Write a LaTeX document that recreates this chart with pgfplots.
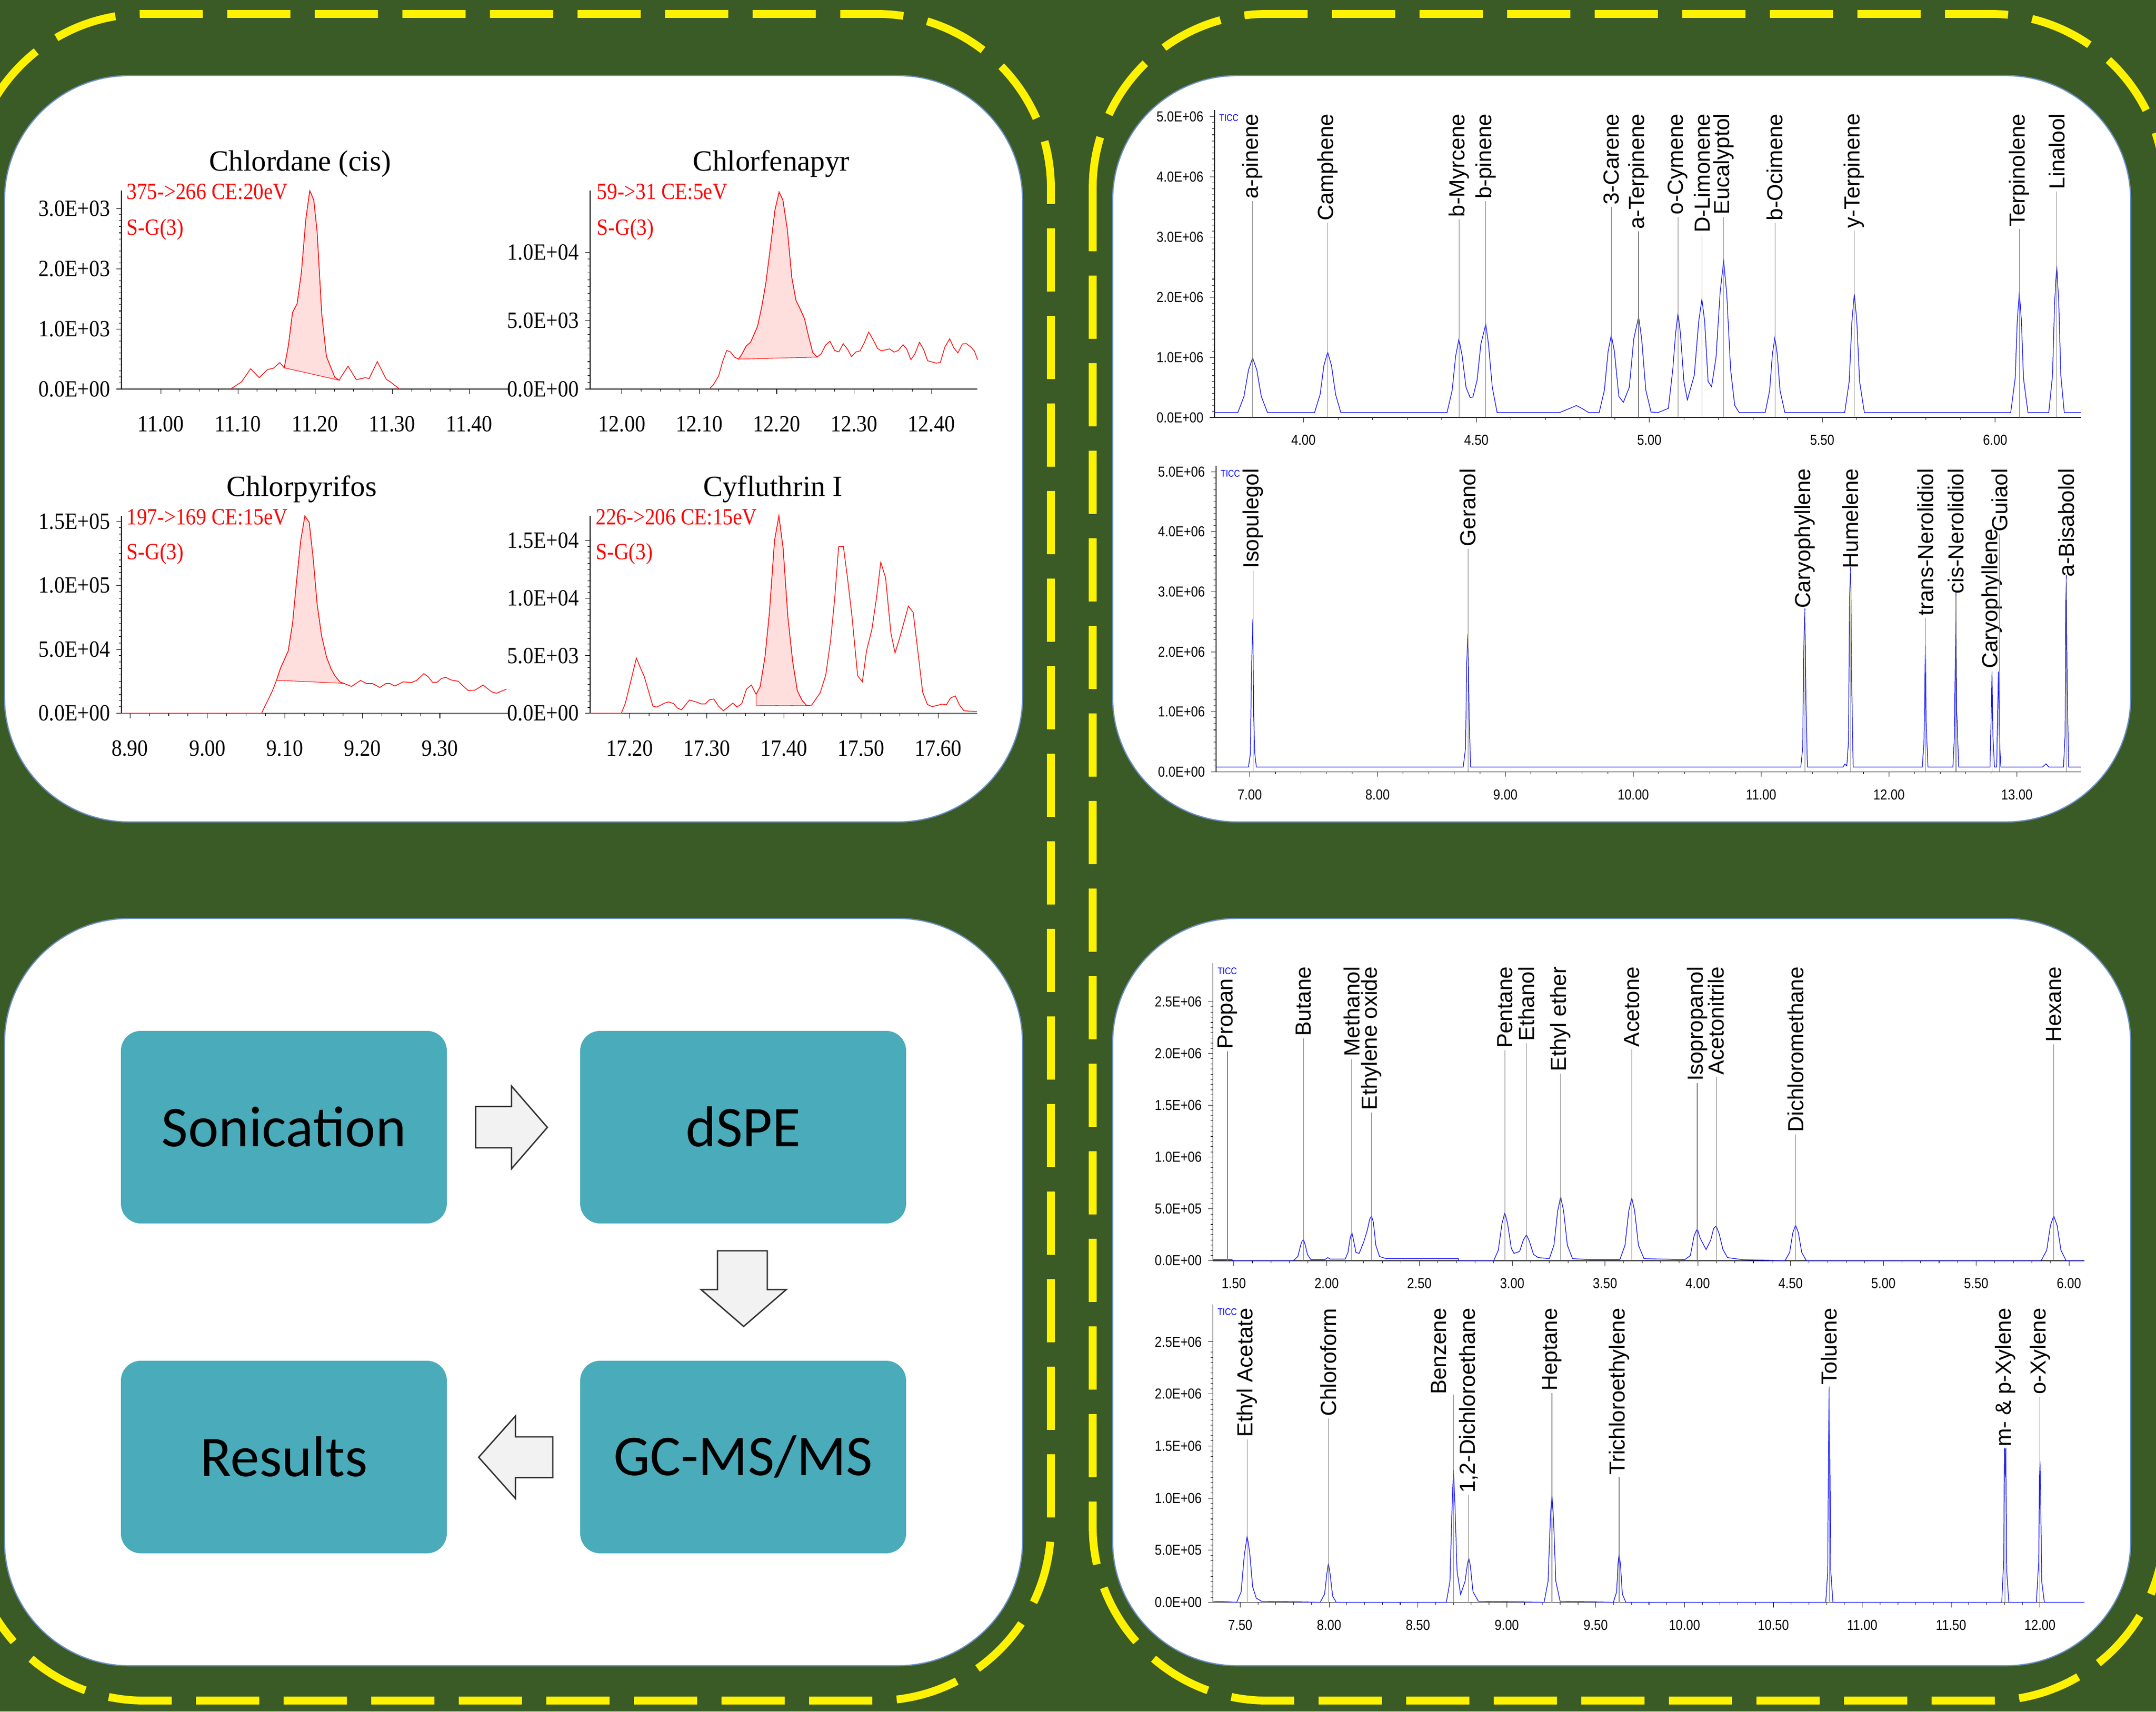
\documentclass[border=0pt]{standalone}
\usepackage{pgfplots}
\pgfplotsset{compat=1.18}
\usepackage{fontspec}
\setmainfont{Liberation Serif}
\newfontfamily\srmfont[FakeStretch=0.9]{Liberation Serif}
\newfontfamily\redfont[FakeStretch=0.88]{Liberation Serif}
\newfontfamily\ticfont[FakeStretch=0.86]{Liberation Sans}
\newfontfamily\labfont{Liberation Sans}
\newfontfamily\flowfont{Carlito}

\definecolor{bg}{HTML}{3A5A26}
\definecolor{panelline}{HTML}{6A8EC4}
\definecolor{boxteal}{HTML}{4AABBA}
\definecolor{arrowgray}{HTML}{F2F2F2}
\definecolor{pinkfill}{HTML}{FFDEDE}

\pgfplotsset{
  srm/.style={
    scale only axis, anchor=south west, clip=false,
    width=77.7mm, height=39.85mm,
    axis x line*=bottom, axis y line*=left,
    axis line style={black, line width=0.4pt},
    tick align=outside, major tick length=1mm, minor tick length=0.5mm,
    tick style={black, line width=0.3pt},
    minor x tick num=3, minor y tick num=9,
    scaled x ticks=false, scaled y ticks=false,
    ticklabel style={font=\fontsize{13.3}{14}\srmfont},
    xticklabel style={yshift=-3.2mm},
    ymin=0,
  },
  gc/.style={
    scale only axis, anchor=south west, clip=false,
    axis x line*=bottom, axis y line*=left,
    axis line style={black!85, line width=0.4pt},
    tick align=outside, major tick length=1mm, minor tick length=0.5mm,
    tick style={black!85, line width=0.3pt},
    minor x tick num=4, minor y tick num=9,
    scaled x ticks=false, scaled y ticks=false,
    ticklabel style={font=\fontsize{8.3}{9}\ticfont},
    xticklabel style={yshift=-1.3mm},
    ymin=0,
  },
}
\newcommand\gclab[3]{%
  \node[rotate=90, anchor=east, inner sep=0.4mm, font=\fontsize{12.5}{13}\labfont] (L) at (axis cs:#1,#2) {#3};
  \draw[gray, line width=0.3pt] (axis cs:#1,0) -- (L.west);}
\newcommand\ticc{\node[anchor=west, inner sep=0pt, text=blue, font=\fontsize{5.5}{6}\ticfont] at (rel axis cs:0.005,0.975) {TICC};}

\begin{document}
\begin{tikzpicture}
\begin{scope}[shift={(0mm,344mm)},x=0.1mm,y=-0.1mm]
  \fill[bg] (0,0) rectangle (4333,3440);
  \draw[yellow, line width=4.5pt, dash pattern=on 12.7mm off 4.9mm, rounded corners=35mm] (-60,28) rectangle (2112,3418);
  \draw[yellow, line width=4.5pt, dash pattern=on 12.7mm off 4.9mm, rounded corners=35mm] (2196,28) rectangle (4350,3418);
  \filldraw[fill=white, draw=panelline, line width=0.7pt, rounded corners=25mm] (9,152) rectangle (2055,1652);
  \filldraw[fill=white, draw=panelline, line width=0.7pt, rounded corners=25mm] (2236,152) rectangle (4282,1652);
  \filldraw[fill=white, draw=panelline, line width=0.7pt, rounded corners=25mm] (9,1846) rectangle (2055,3348);
  \filldraw[fill=white, draw=panelline, line width=0.7pt, rounded corners=25mm] (2236,1846) rectangle (4282,3348);
  % flow chart
  \fill[boxteal, rounded corners=4mm] (243,2072) rectangle (898,2459);
  \fill[boxteal, rounded corners=4mm] (1166,2072) rectangle (1821,2459);
  \fill[boxteal, rounded corners=4mm] (1166,2735) rectangle (1821,3122);
  \fill[boxteal, rounded corners=4mm] (243,2735) rectangle (898,3122);
  \node[font=\fontsize{33}{36}\flowfont] at (570.5,2265) {Sonication};
  \node[font=\fontsize{33}{36}\flowfont] at (1493.5,2265) {dSPE};
  \node[font=\fontsize{33}{36}\flowfont] at (1493.5,2928) {GC-MS/MS};
  \node[font=\fontsize{33}{36}\flowfont] at (570.5,2928) {Results};
  \filldraw[fill=arrowgray, draw=black!80, line width=0.8pt] (956,2224) -- (1028,2224) -- (1028,2183) -- (1100,2266) -- (1028,2349) -- (1028,2307) -- (956,2307) -- cycle;
  \filldraw[fill=arrowgray, draw=black!80, line width=0.8pt] (1442,2514) -- (1542,2514) -- (1542,2592) -- (1580,2592) -- (1494.5,2666) -- (1409,2592) -- (1442,2592) -- cycle;
  \filldraw[fill=arrowgray, draw=black!80, line width=0.8pt] (1111,2888) -- (1036,2888) -- (1036,2846) -- (962,2929) -- (1036,3012) -- (1036,2970) -- (1111,2970) -- cycle;
\end{scope}

% ---------- SRM chromatograms ----------
\begin{axis}[srm, at={(24.4mm,265.8mm)},
  xmin=10.949, xmax=11.45, ymax=3300,
  xtick={11,11.1,11.2,11.3,11.4}, xticklabels={11.00,11.10,11.20,11.30,11.40},
  ytick={0,1000,2000,3000}, yticklabels={0.0E+00,1.0E+03,2.0E+03,3.0E+03}]
\addplot[fill=pinkfill, draw=red, line width=0.3pt] coordinates {
  (11.16,354) (11.1655,732) (11.1707,1275) (11.1767,1419) (11.1823,1952) (11.188,2828)
  (11.1931,3302) (11.1983,3144) (11.2026,2622) (11.2086,1247) (11.2147,543) (11.2254,199) (11.231,148)} -- cycle;
\addplot[red, line width=0.4pt] coordinates {
  (11.0905,0) (11.1047,120) (11.1164,337) (11.1276,189) (11.1384,326) (11.1457,344) (11.1543,440)
  (11.16,354) (11.1655,732) (11.1707,1275) (11.1767,1419) (11.1823,1952) (11.188,2828) (11.1931,3302)
  (11.1983,3144) (11.2026,2622) (11.2086,1247) (11.2147,543) (11.2254,199) (11.231,148) (11.2427,381)
  (11.2534,155) (11.2651,189) (11.27,175) (11.2806,457) (11.2922,162) (11.2974,120) (11.3095,0)};
\node[font=\fontsize{16.8}{18}\selectfont] at (rel axis cs:0.462,1.137) {Chlordane (cis)};
\node[anchor=west, inner sep=0pt, text=red, font=\fontsize{13.3}{14}\redfont] at (rel axis cs:0.013,0.996) {375->266 CE:20eV};
\node[anchor=west, inner sep=0pt, text=red, font=\fontsize{13.3}{14}\redfont] at (rel axis cs:0.013,0.806) {S-G(3)};
\end{axis}

\begin{axis}[srm, at={(118.6mm,265.8mm)}, width=77.8mm,
  xmin=11.959, xmax=12.459, ymax=14500,
  xtick={12,12.1,12.2,12.3,12.4}, xticklabels={12.00,12.10,12.20,12.30,12.40},
  ytick={0,5000,10000}, yticklabels={0.0E+00,5.0E+03,1.0E+04}]
\addplot[fill=pinkfill, draw=red, line width=0.3pt] coordinates {
  (12.1506,2190) (12.1547,2520) (12.1608,3165) (12.1662,3420) (12.1752,4575) (12.1805,5970) (12.1858,7695)
  (12.1916,10245) (12.1977,13095) (12.2031,14415) (12.208,13815) (12.2137,11670) (12.2195,8145) (12.2248,6495)
  (12.2297,5925) (12.2359,5145) (12.2408,3945) (12.2465,2670) (12.2523,2340)} -- cycle;
\addplot[red, line width=0.4pt] coordinates {
  (12.1128,0) (12.1182,315) (12.1251,975) (12.13,1995) (12.1354,2820) (12.1403,2715) (12.1456,2325)
  (12.1506,2190) (12.1547,2520) (12.1608,3165) (12.1662,3420) (12.1752,4575) (12.1805,5970) (12.1858,7695)
  (12.1916,10245) (12.1977,13095) (12.2031,14415) (12.208,13815) (12.2137,11670) (12.2195,8145) (12.2248,6495)
  (12.2297,5925) (12.2359,5145) (12.2408,3945) (12.2465,2670) (12.2523,2340) (12.2576,2595) (12.2633,3225)
  (12.2687,3495) (12.2749,2820) (12.2802,2715) (12.2859,3315) (12.2913,2925) (12.2966,2370) (12.3024,2715)
  (12.3077,2790) (12.313,3375) (12.3188,4170) (12.3249,3570) (12.3303,2970) (12.3352,2790) (12.3458,2940)
  (12.3516,2700) (12.3569,2820) (12.3631,3240) (12.368,2925) (12.3733,2145) (12.3787,2595) (12.3844,3420)
  (12.3897,2895) (12.395,2070) (12.4062,1890) (12.4115,1965) (12.4172,3075) (12.4234,3675) (12.4287,3015)
  (12.434,2640) (12.4398,3300) (12.4451,3315) (12.4504,3090) (12.4554,2775) (12.4595,2145)};
\node[font=\fontsize{16.8}{18}\selectfont] at (rel axis cs:0.468,1.137) {Chlorfenapyr};
\node[anchor=west, inner sep=0pt, text=red, font=\fontsize{13.3}{14}\redfont] at (rel axis cs:0.017,0.996) {59->31 CE:5eV};
\node[anchor=west, inner sep=0pt, text=red, font=\fontsize{13.3}{14}\redfont] at (rel axis cs:0.017,0.806) {S-G(3)};
\end{axis}

\begin{axis}[srm, at={(24.4mm,200.64mm)}, height=39.68mm,
  xmin=8.889, xmax=9.388, ymax=154400,
  xtick={8.9,9,9.1,9.2,9.3}, xticklabels={8.90,9.00,9.10,9.20,9.30},
  ytick={0,50000,100000,150000}, yticklabels={0.0E+00,5.0E+04,1.0E+05,1.5E+05}]
\addplot[fill=pinkfill, draw=red, line width=0.3pt] coordinates {
  (9.0892,25810) (9.0944,35320) (9.1043,48710) (9.1099,70490) (9.115,102750) (9.1206,135810) (9.1258,154370)
  (9.1314,149200) (9.1366,120490) (9.1417,85000) (9.1473,60810) (9.1538,43870) (9.1594,35000) (9.1645,29360)
  (9.171,24520) (9.1761,23390)} -- cycle;
\addplot[red, line width=0.4pt] coordinates {
  (8.889,0) (9.0699,0) (9.0837,17260) (9.0892,25810) (9.0944,35320) (9.1043,48710) (9.1099,70490) (9.115,102750)
  (9.1206,135810) (9.1258,154370) (9.1314,149200) (9.1366,120490) (9.1417,85000) (9.1473,60810) (9.1538,43870)
  (9.1594,35000) (9.1645,29360) (9.171,24520) (9.1761,23390) (9.186,20970) (9.1976,25650) (9.2054,23230)
  (9.2131,23230) (9.2226,20160) (9.2303,23230) (9.2355,23230) (9.2419,21290) (9.2527,24520) (9.2634,24030)
  (9.2699,25650) (9.2794,30970) (9.2849,28550) (9.2905,24200) (9.2965,24200) (9.3022,27260) (9.3077,28070)
  (9.3138,26130) (9.3237,25000) (9.3301,21290) (9.3366,17740) (9.3452,18070) (9.3559,22100) (9.3667,16770)
  (9.3731,15650) (9.3796,17260) (9.386,18870)};
\node[font=\fontsize{16.8}{18}\selectfont] at (rel axis cs:0.466,1.136) {Chlorpyrifos};
\node[anchor=west, inner sep=0pt, text=red, font=\fontsize{13.3}{14}\redfont] at (rel axis cs:0.013,0.994) {197->169 CE:15eV};
\node[anchor=west, inner sep=0pt, text=red, font=\fontsize{13.3}{14}\redfont] at (rel axis cs:0.013,0.807) {S-G(3)};
\end{axis}

\begin{axis}[srm, at={(118.6mm,200.64mm)}, width=77.8mm, height=39.68mm,
  xmin=17.1486, xmax=17.6506, ymax=17150,
  xtick={17.2,17.3,17.4,17.5,17.6}, xticklabels={17.20,17.30,17.40,17.50,17.60},
  ytick={0,5000,10000,15000}, yticklabels={0.0E+00,5.0E+03,1.0E+04,1.5E+04}]
\addplot[fill=pinkfill, draw=red, line width=0.3pt] coordinates {
  (17.3638,699) (17.3638,1649) (17.3691,2312) (17.3753,4874) (17.3811,8727) (17.3877,15000) (17.3934,17150)
  (17.3988,14370) (17.405,8369) (17.4112,4516) (17.4173,1953) (17.4235,1111) (17.4296,663)} -- cycle;
\addplot[red, line width=0.4pt] coordinates {
  (17.1486,0) (17.189,0) (17.1942,842) (17.2086,4785) (17.2136,3978) (17.2189,3172) (17.23,609) (17.235,538)
  (17.2457,896) (17.2506,986) (17.2568,842) (17.2617,448) (17.2671,305) (17.2774,1147) (17.2868,968)
  (17.2926,806) (17.2979,806) (17.3033,1165) (17.309,1236) (17.3152,609) (17.3214,215) (17.3337,878)
  (17.3391,538) (17.3453,842) (17.3514,2097) (17.3576,2455) (17.3638,1649) (17.3691,2312) (17.3753,4874)
  (17.3811,8727) (17.3877,15000) (17.3934,17150) (17.3988,14370) (17.405,8369) (17.4112,4516) (17.4173,1953)
  (17.4235,1111) (17.4296,663) (17.4358,699) (17.4469,1774) (17.4543,3351) (17.4605,6397) (17.4658,9981)
  (17.4708,14461) (17.477,14497) (17.4823,11773) (17.4881,8458) (17.4955,3261) (17.5016,2724) (17.507,5412)
  (17.514,7293) (17.5202,10161) (17.5255,13117) (17.5317,11773) (17.5387,6935) (17.544,5233) (17.5498,6505)
  (17.556,8010) (17.5613,9300) (17.5675,8763) (17.5737,5322) (17.5798,1828) (17.586,753) (17.5922,573)
  (17.6045,788) (17.6107,753) (17.616,1326) (17.6222,1505) (17.6272,753) (17.6333,215) (17.6416,179) (17.65,161)};
\node[font=\fontsize{16.8}{18}\selectfont] at (rel axis cs:0.472,1.136) {Cyfluthrin I};
\node[anchor=west, inner sep=0pt, text=red, font=\fontsize{13.3}{14}\redfont] at (rel axis cs:0.014,0.994) {226->206 CE:15eV};
\node[anchor=west, inner sep=0pt, text=red, font=\fontsize{13.3}{14}\redfont] at (rel axis cs:0.014,0.807) {S-G(3)};
\end{axis}

% ---------- TIC chromatograms: terpenes ----------
\begin{axis}[gc, at={(244.1mm,260.1mm)}, width=174.1mm, height=61.8mm,
  xmin=3.743, xmax=6.248, ymax=5.114,
  xtick={4,4.5,5,5.5,6}, xticklabels={4.00,4.50,5.00,5.50,6.00},
  ytick={0,1,2,3,4,5}, yticklabels={0.0E+00,1.0E+06,2.0E+06,3.0E+06,4.0E+06,5.0E+06}]
\addplot[blue, line width=0.35pt] coordinates {
  (3.743,0.08) (3.810,0.08) (3.828,0.35) (3.841,0.79) (3.853,0.989) (3.865,0.79) (3.878,0.35) (3.896,0.08)
  (4.032,0.08) (4.048,0.38) (4.059,0.86) (4.070,1.084) (4.081,0.86) (4.093,0.38) (4.108,0.08)
  (4.415,0.08) (4.430,0.45) (4.440,1.02) (4.4495,1.304) (4.459,1.02) (4.470,0.5) (4.482,0.33) (4.490,0.34)
  (4.502,0.62) (4.513,1.22) (4.527,1.548) (4.535,1.22) (4.546,0.5) (4.560,0.08)
  (4.740,0.08) (4.770,0.15) (4.789,0.198) (4.805,0.15) (4.825,0.08)
  (4.855,0.08) (4.870,0.45) (4.881,1.1) (4.890,1.369) (4.899,1.1) (4.912,0.35) (4.925,0.25)
  (4.942,0.5) (4.955,1.3) (4.969,1.673) (4.978,1.3) (4.990,0.45) (5.005,0.09) (5.025,0.08)
  (5.055,0.15) (5.068,0.8) (5.076,1.4) (5.083,1.730) (5.090,1.4) (5.100,0.6) (5.110,0.29)
  (5.130,0.7) (5.143,1.6) (5.152,1.966) (5.160,1.6) (5.170,0.6) (5.180,0.51)
  (5.193,1.0) (5.205,2.1) (5.215,2.597) (5.224,2.05) (5.235,0.8) (5.247,0.2) (5.260,0.08)
  (5.335,0.08) (5.348,0.45) (5.356,1.05) (5.363,1.331) (5.370,1.05) (5.378,0.45) (5.392,0.08)
  (5.565,0.08) (5.578,0.6) (5.586,1.6) (5.593,2.053) (5.600,1.6) (5.608,0.6) (5.622,0.08)
  (6.045,0.08) (6.058,0.65) (6.064,1.6) (6.070,2.091) (6.076,1.6) (6.082,0.65) (6.095,0.08)
  (6.155,0.08) (6.166,0.7) (6.172,1.9) (6.178,2.521) (6.184,1.9) (6.190,0.7) (6.200,0.08) (6.248,0.08)};
\ticc
\gclab{3.853}{5.09}{a-pinene}
\gclab{4.0697}{5.09}{Camphene}
\gclab{4.4495}{5.09}{b-Myrcene}
\gclab{4.5266}{5.09}{b-pinene}
\gclab{4.890}{5.09}{3-Carene}
\gclab{4.9688}{5.09}{a-Terpinene}
\gclab{5.0826}{5.09}{o-Cymene}
\gclab{5.1523}{5.09}{D-Limonene}
\gclab{5.2147}{5.09}{Eucalyptol}
\gclab{5.3633}{5.09}{b-Ocimene}
\gclab{5.5927}{5.09}{y-Terpinene}
\gclab{6.0697}{5.09}{Terpinolene}
\gclab{6.178}{5.09}{Linalool}
\end{axis}

\begin{axis}[gc, at={(244.4mm,188.85mm)}, width=173.8mm, height=61.55mm,
  xmin=6.737, xmax=13.501, ymax=5.1,
  xtick={7,8,9,10,11,12,13}, xticklabels={7.00,8.00,9.00,10.00,11.00,12.00,13.00},
  ytick={0,1,2,3,4,5}, yticklabels={0.0E+00,1.0E+06,2.0E+06,3.0E+06,4.0E+06,5.0E+06}]
\addplot[blue, line width=0.35pt] coordinates {
  (6.737,0.08) (6.990,0.08) (7.005,0.3) (7.012,1.4) (7.018,2.0) (7.025,2.543) (7.031,1.0) (7.040,0.3) (7.052,0.08)
  (8.670,0.08) (8.688,0.4) (8.697,1.8) (8.707,2.305) (8.716,0.9) (8.728,0.08)
  (11.310,0.08) (11.325,0.4) (11.333,2.0) (11.342,2.721) (11.350,1.2) (11.362,0.08)
  (11.640,0.08) (11.655,0.13) (11.670,0.1) (11.683,0.5) (11.692,2.9) (11.700,3.414) (11.708,1.5) (11.720,0.08)
  (12.260,0.08) (12.274,0.5) (12.280,1.3) (12.285,2.107) (12.291,0.8) (12.305,0.08)
  (12.500,0.08) (12.512,0.6) (12.519,2.0) (12.524,2.998) (12.530,1.0) (12.545,0.08)
  (12.790,0.08) (12.800,1.0) (12.806,1.671) (12.813,0.6) (12.825,0.08)
  (12.842,0.08) (12.850,1.0) (12.856,1.671) (12.863,0.6) (12.875,0.08)
  (13.200,0.08) (13.228,0.135) (13.250,0.08)
  (13.365,0.08) (13.377,0.6) (13.382,2.7) (13.387,3.275) (13.393,1.5) (13.405,0.08) (13.501,0.08)};
\ticc
\gclab{7.025}{5.09}{Isopulegol}
\gclab{8.707}{5.09}{Geranol}
\gclab{11.342}{5.09}{Caryophyllene}
\gclab{11.700}{5.09}{Humelene}
\gclab{12.285}{5.09}{trans-Nerolidiol}
\gclab{12.524}{5.09}{cis-Nerolidiol}
\gclab{12.806}{4.09}{Caryophyllene}
\gclab{12.865}{5.09}{Guiaol}
\gclab{13.387}{5.09}{a-Bisabolol}
\end{axis}

% ---------- TIC chromatograms: solvents ----------
\begin{axis}[gc, at={(243.75mm,90.61mm)}, width=175.15mm, height=59.74mm,
  xmin=1.387, xmax=6.083, ymax=2.869,
  xtick={1.5,2,2.5,3,3.5,4,4.5,5,5.5,6}, xticklabels={1.50,2.00,2.50,3.00,3.50,4.00,4.50,5.00,5.50,6.00},
  ytick={0,0.5,1,1.5,2,2.5}, yticklabels={0.0E+00,5.0E+05,1.0E+06,1.5E+06,2.0E+06,2.5E+06}]
\addplot[blue, line width=0.35pt] coordinates {
  (1.387,0.01) (1.490,0.01) (1.495,0.0) (1.820,0.0) (1.845,0.04) (1.860,0.15) (1.868,0.19) (1.876,0.201)
  (1.885,0.15) (1.897,0.06) (1.915,0.01) (1.990,0.01) (2.006,0.03) (2.020,0.015)
  (2.100,0.015) (2.115,0.08) (2.127,0.22) (2.136,0.271) (2.145,0.2) (2.158,0.08) (2.175,0.07)
  (2.200,0.18) (2.220,0.3) (2.232,0.4) (2.242,0.432) (2.252,0.37) (2.265,0.15) (2.285,0.04) (2.320,0.02)
  (2.710,0.02) (2.712,0.0) (2.900,0.0) (2.925,0.1) (2.945,0.36) (2.960,0.461) (2.975,0.36) (2.995,0.12) (3.010,0.07)
  (3.040,0.09) (3.060,0.2) (3.077,0.248) (3.092,0.19) (3.115,0.06) (3.140,0.03)
  (3.200,0.02) (3.225,0.15) (3.245,0.48) (3.261,0.615) (3.277,0.48) (3.297,0.15) (3.325,0.02) (3.420,0.01)
  (3.580,0.01) (3.608,0.15) (3.628,0.48) (3.644,0.604) (3.660,0.48) (3.680,0.15) (3.710,0.02) (3.930,0.01)
  (3.960,0.05) (3.980,0.24) (3.997,0.309) (4.012,0.22) (4.045,0.107)
  (4.070,0.2) (4.085,0.31) (4.099,0.335) (4.115,0.26) (4.135,0.11) (4.160,0.03) (4.240,0.01)
  (4.470,0.0) (4.495,0.08) (4.512,0.27) (4.527,0.342) (4.542,0.27) (4.560,0.08) (4.585,0.0)
  (5.850,0.0) (5.880,0.1) (5.900,0.34) (5.918,0.432) (5.936,0.34) (5.957,0.1) (5.985,0.0) (6.083,0.0)};
\ticc
\gclab{1.466}{2.746}{Propan}
\gclab{1.876}{2.86}{Butane}
\gclab{2.136}{2.86}{Methanol}
\gclab{2.242}{2.86}{Ethylene oxide}
\gclab{2.960}{2.86}{Pentane}
\gclab{3.077}{2.86}{Ethanol}
\gclab{3.261}{2.86}{Ethyl ether}
\gclab{3.644}{2.86}{Acetone}
\gclab{3.997}{2.86}{Isopropanol}
\gclab{4.099}{2.86}{Acetonitrile}
\gclab{4.527}{2.86}{Dichloromethane}
\gclab{5.918}{2.86}{Hexane}
\end{axis}

\begin{axis}[gc, at={(243.75mm,21.95mm)}, width=175.15mm, height=59.85mm,
  xmin=7.346, xmax=12.25, ymax=2.858,
  xtick={7.5,8,8.5,9,9.5,10,10.5,11,11.5,12}, xticklabels={7.50,8.00,8.50,9.00,9.50,10.00,10.50,11.00,11.50,12.00},
  ytick={0,0.5,1,1.5,2,2.5}, yticklabels={0.0E+00,5.0E+05,1.0E+06,1.5E+06,2.0E+06,2.5E+06}]
\addplot[blue, line width=0.35pt] coordinates {
  (7.346,0.01) (7.480,0.0) (7.505,0.1) (7.523,0.45) (7.539,0.636) (7.553,0.48) (7.570,0.15) (7.590,0.04) (7.620,0.01)
  (7.950,0.0) (7.975,0.08) (7.988,0.28) (7.996,0.373) (8.005,0.28) (8.020,0.06) (8.040,0.0)
  (8.660,0.0) (8.680,0.2) (8.692,0.9) (8.700,1.269) (8.708,0.95) (8.720,0.3) (8.740,0.075)
  (8.765,0.2) (8.778,0.36) (8.786,0.422) (8.795,0.35) (8.810,0.1) (8.840,0.01)
  (9.210,0.0) (9.232,0.2) (9.245,0.8) (9.254,1.056) (9.263,0.8) (9.276,0.2) (9.300,0.01)
  (9.600,0.0) (9.618,0.1) (9.626,0.37) (9.632,0.48) (9.640,0.35) (9.650,0.08) (9.670,0.0)
  (10.795,0.0) (10.806,0.3) (10.810,1.5) (10.814,2.069) (10.818,1.4) (10.823,0.3) (10.835,0.0)
  (11.785,0.0) (11.796,0.4) (11.800,1.483) (11.804,1.2) (11.808,1.483) (11.813,0.3) (11.825,0.0)
  (11.980,0.0) (11.993,0.4) (11.997,1.2) (12.000,1.355) (12.004,1.0) (12.010,0.2) (12.025,0.0) (12.25,0.0)};
\ticc
\gclab{7.539}{2.845}{Ethyl Acetate}
\gclab{7.996}{2.845}{Chloroform}
\node[rotate=90, anchor=east, inner sep=0.4mm, font=\fontsize{12.5}{13}\labfont] at (axis cs:8.618,2.845) {Benzene};
\draw[gray, line width=0.3pt] (axis cs:8.700,0) -- (axis cs:8.700,1.995);
\gclab{8.786}{2.845}{1,2-Dichloroethane}
\gclab{9.254}{2.845}{Heptane}
\gclab{9.632}{2.845}{Trichloroethylene}
\gclab{10.814}{2.845}{Toluene}
\gclab{11.804}{2.845}{m- \& p-Xylene}
\gclab{12.0}{2.845}{o-Xylene}
\end{axis}

\pgfresetboundingbox
\path[use as bounding box] (0,0) rectangle (433.3mm,344mm);
\end{tikzpicture}
\end{document}
